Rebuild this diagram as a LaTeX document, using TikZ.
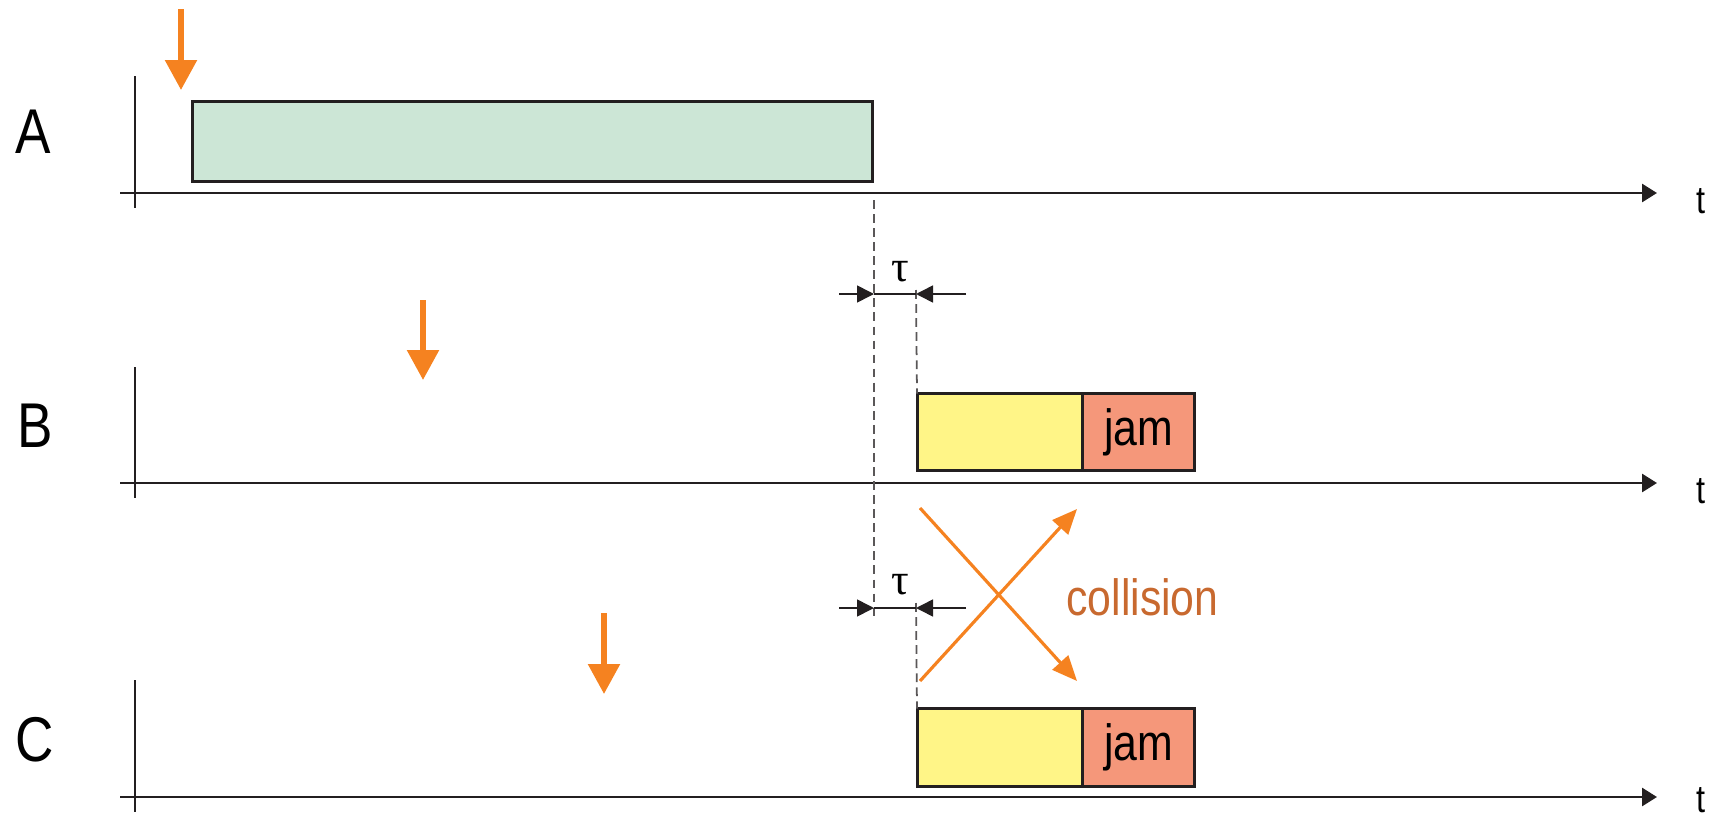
\documentclass[tikz,border=0pt]{standalone}
\usepackage{fontspec}
\setmainfont{Liberation Sans}[FakeStretch=0.84]
\newfontfamily\greekfont{Liberation Serif}
\usetikzlibrary{arrows.meta,positioning}
\definecolor{ink}{HTML}{231F20}
\definecolor{sendgreen}{HTML}{CCE6D6}
\definecolor{sendyellow}{HTML}{FFF587}
\definecolor{jamred}{HTML}{F5977A}
\definecolor{senseorange}{HTML}{F58220}
\definecolor{collbrown}{HTML}{C8692F}

\begin{document}
\begin{tikzpicture}[x=0.02cm, y=-0.02cm,
    axis/.style = {draw=ink, line width=1.6pt},
    tip/.style = {-{Triangle[length=0.3cm, width=0.36cm]}},
    frame/.style = {draw=ink, line width=1.7pt, inner sep=0pt, outer sep=0pt, font=\fontsize{29}{29}\selectfont},
    sense/.style = {draw=senseorange, line width=3.2pt, -{Triangle[length=0.6cm, width=0.62cm]}},
    delay/.style = {draw=ink!75, line width=1pt, dash pattern=on 5pt off 3pt},
    span/.style = {draw=ink, line width=0.9pt, -{Triangle[length=0.34cm, width=0.34cm]}},
    hit/.style = {draw=senseorange, line width=1.8pt, -{Triangle[length=0.5cm, width=0.42cm]}},
    station/.style = {font=\fontsize{36}{36}\selectfont, anchor=base west, inner sep=0pt},
    tlabel/.style = {font=\fontsize{22}{22}\selectfont, anchor=base west, inner sep=0pt},
    taulabel/.style = {font=\greekfont\fontsize{25}{25}\selectfont, inner sep=0pt}]
  \useasboundingbox (0,0) rectangle (1715,818);

  % station A
  \node[station] (A) at (15,153) {A};
  \node[tlabel] (tA) at (1696,213) {t};
  \coordinate (A0) at (120,193);
  \coordinate (A1) at (1657,193);
  \coordinate (Atop) at (135,76);
  \coordinate (Abot) at (135,208);
  \draw[axis, tip] (A0) -- (A1);
  \draw[axis] (Atop) -- (Abot);
  \node[frame, fill=sendgreen, minimum width=13.6cm, minimum height=1.6cm] (frameA) at (532.5,141.5) {};
  \coordinate (sA) at (181,9);
  \coordinate (eA) at (181,90);
  \draw[sense] (sA) -- (eA);

  % station B
  \node[station] (B) at (17,447) {B};
  \node[tlabel] (tB) at (1696,503) {t};
  \coordinate (B0) at (120,483);
  \coordinate (B1) at (1657,483);
  \coordinate (Btop) at (135,367);
  \coordinate (Bbot) at (135,498);
  \draw[axis, tip] (B0) -- (B1);
  \draw[axis] (Btop) -- (Bbot);
  \node[frame, fill=sendyellow, minimum width=3.32cm, minimum height=1.54cm, anchor=west] (frameB) at (917,432) {};
  \node[frame, fill=jamred, minimum width=2.23cm, minimum height=1.54cm] (jamB) [right=0pt of frameB] {jam};
  \coordinate (sB) at (423,300);
  \coordinate (eB) at (423,380);
  \draw[sense] (sB) -- (eB);

  % station C
  \node[station] (C) at (15,761) {C};
  \node[tlabel] (tC) at (1696,812) {t};
  \coordinate (C0) at (120,797);
  \coordinate (C1) at (1657,797);
  \coordinate (Ctop) at (135,680);
  \coordinate (Cbot) at (135,812);
  \draw[axis, tip] (C0) -- (C1);
  \draw[axis] (Ctop) -- (Cbot);
  \node[frame, fill=sendyellow, minimum width=3.32cm, minimum height=1.56cm, anchor=west] (frameC) at (917,747.5) {};
  \node[frame, fill=jamred, minimum width=2.23cm, minimum height=1.56cm] (jamC) [right=0pt of frameC] {jam};
  \coordinate (sC) at (604,613);
  \coordinate (eC) at (604,694);
  \draw[sense] (sC) -- (eC);

  % propagation delay
  \coordinate (d1) at (874,200);
  \coordinate (d2) at (874,618);
  \coordinate (d3) at (916,290);
  \coordinate (d4) at (916,603);
  \draw[delay] (d1) -- (d2);
  \draw[delay] (d3) -- (frameB.north west);
  \draw[delay] (d4) -- (frameC.north west);

  \coordinate (u1) at (839,294);
  \coordinate (u2) at (874,294);
  \coordinate (u3) at (916,294);
  \coordinate (u4) at (966,294);
  \draw[span] (u1) -- (u2);
  \draw[span] (u4) -- (u3);
  \draw[draw=ink, line width=0.9pt] (u2) -- (u3);
  \node[taulabel] (tau1) at (900,272) {τ};

  \coordinate (w1) at (839,608);
  \coordinate (w2) at (874,608);
  \coordinate (w3) at (916,608);
  \coordinate (w4) at (966,608);
  \draw[span] (w1) -- (w2);
  \draw[span] (w4) -- (w3);
  \draw[draw=ink, line width=0.9pt] (w2) -- (w3);
  \node[taulabel] (tau2) at (900,585) {τ};

  % collision
  \coordinate (x1) at (920,508);
  \coordinate (x2) at (1077,681);
  \coordinate (x3) at (920,681);
  \coordinate (x4) at (1077,509);
  \draw[hit] (x1) -- (x2);
  \draw[hit] (x3) -- (x4);
  \node[anchor=base west, inner sep=0pt, text=collbrown, font=\fontsize{29}{29}\selectfont] (coll) at (1066,615) {collision};
\end{tikzpicture}
\end{document}
